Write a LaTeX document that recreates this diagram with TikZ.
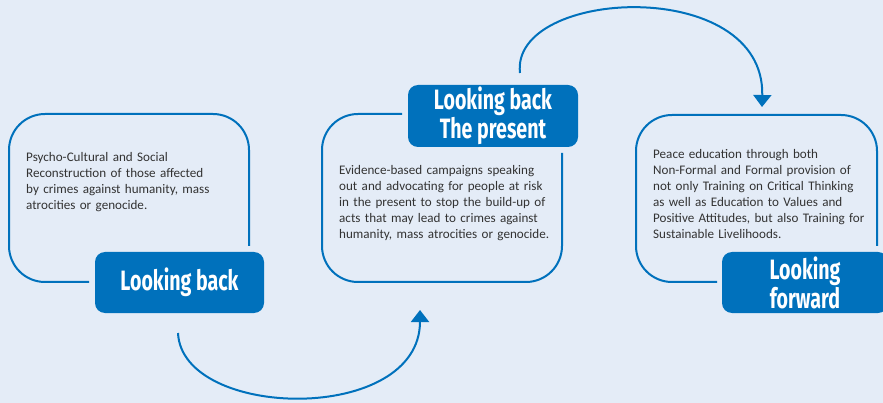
\documentclass[tikz,border=0pt]{standalone}
\usepackage{fontspec}
\setmainfont{Carlito}
\newfontfamily\tagfont[FakeStretch=0.7]{Fira Sans}
\usetikzlibrary{positioning,arrows.meta}
\definecolor{unblue}{RGB}{0,113,188}
\definecolor{bgblue}{RGB}{228,236,247}
\definecolor{txtgray}{RGB}{51,51,51}

\begin{document}
\begin{tikzpicture}[x=1pt,y=-1pt,
outline/.style={draw=unblue,line width=2pt,rounded corners=36pt},
tag/.style={fill=unblue,rounded corners=10pt,text=white,align=center,inner sep=0pt,
    font=\tagfont\bfseries\fontsize{28}{29}\selectfont},
txt/.style={anchor=north west,inner sep=0pt,text width=250pt,align=left,text=txtgray,
    font=\fontsize{13.1}{16}\selectfont},
cyclearrow/.style={draw=unblue,line width=2pt,-{Triangle[width=18pt,length=12pt]}}]
\useasboundingbox (0,0) rectangle (883,403);
\fill[bgblue] (0,0) rectangle (883,403);

% the three frames
\draw[outline] (89,282) -- (9,282) -- (9,114) -- (249,114) -- (249,246);
\draw[outline] (402,114) -- (322,114) -- (322,282) -- (562,282) -- (562,153);
\draw[outline] (717,282) -- (636,282) -- (636,115) -- (877,115) -- (877,246);

\node (tback) [txt] at (26,152) {Psycho-Cultural and Social\\
    Reconstruction of those affected\\
    by crimes against humanity, mass\\
    atrocities or genocide.};
\node (tpres) [txt] at (339,165) {Evidence-based campaigns speaking\\
    out and advocating for people at risk\\
    in the present to stop the build-up of\\
    acts that may lead to crimes against\\
    humanity, mass atrocities or genocide.};
\node (tfwd) [txt] at (653,149) {Peace education through both\\
    Non-Formal and Formal provision of\\
    not only Training on Critical Thinking\\
    as well as Education to Values and\\
    Positive Attitudes, but also Training for\\
    Sustainable Livelihoods.};

\node (lback) [tag,minimum width=169pt,minimum height=61pt] at (179.5,282.5) {Looking back};
\node (lpres) [tag,minimum width=170pt,minimum height=62pt] at (493,116) {Looking back\\The present};
\node (lfwd) [tag,minimum width=166pt,minimum height=61pt] at (805,282.5) {Looking\\forward};

% arrows between the stages
\coordinate (a1) at (178,333);
\coordinate (a2) at (420,310);
\coordinate (a3) at (520,73);
\coordinate (a4) at (762,107);
\draw[cyclearrow] (a1) .. controls (182,420) and (420,425) .. (a2);
\draw[cyclearrow] (a3) .. controls (510,-12) and (765,-25) .. (a4);
\end{tikzpicture}
\end{document}
